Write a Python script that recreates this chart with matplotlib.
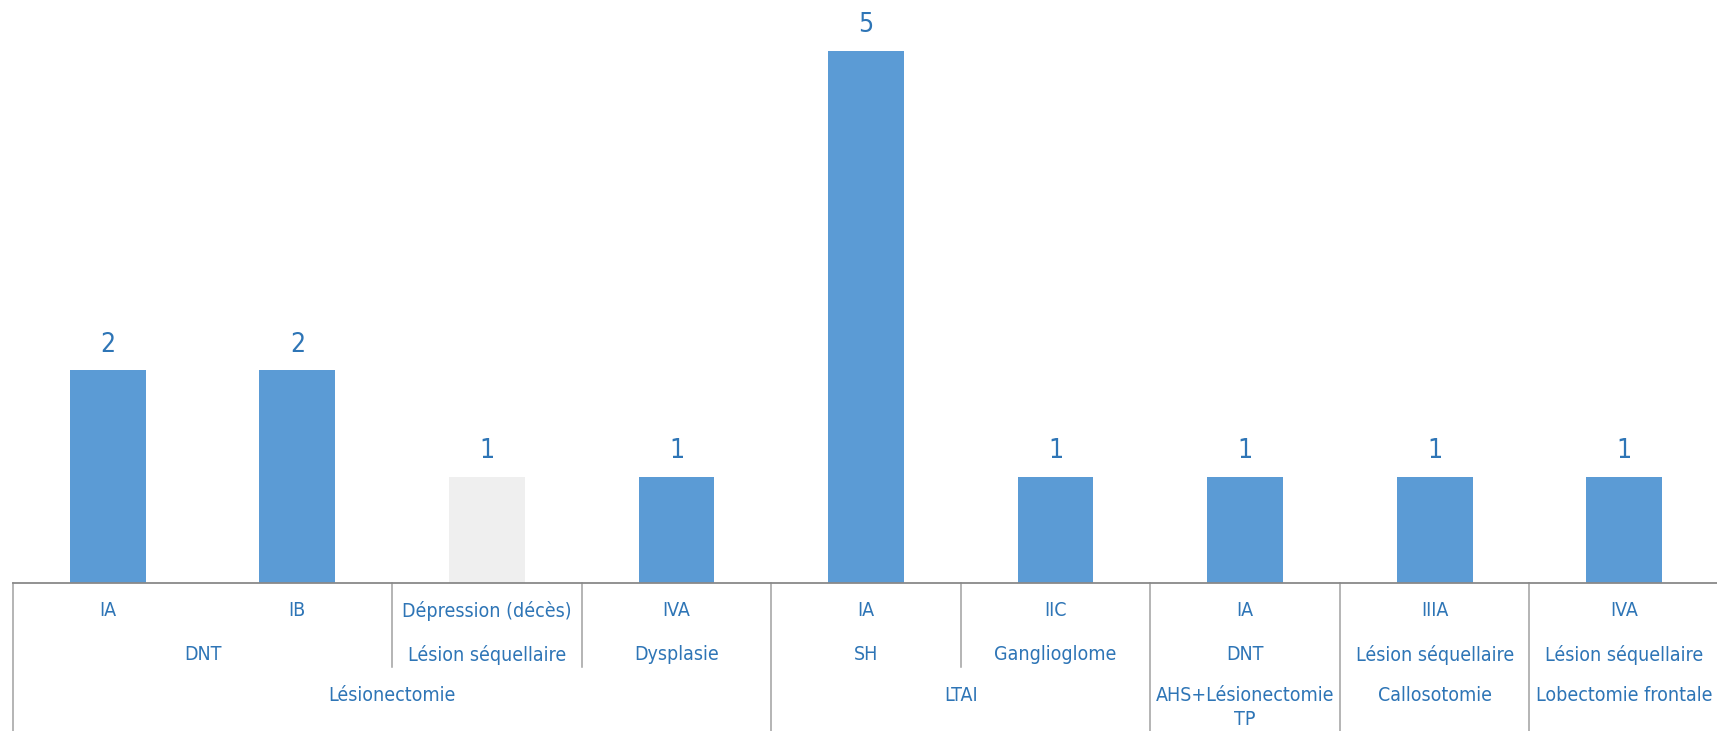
import matplotlib.pyplot as plt
from matplotlib import font_manager
from matplotlib.transforms import blended_transform_factory

# counts per outcome
values = [2, 2, 1, 1, 5, 1, 1, 1, 1]

# three-level category axis: Engel class / lesion / surgery
level1 = ['IA', 'IB', 'Dépression (décès)', 'IVA', 'IA', 'IIC', 'IA', 'IIIA', 'IVA']
level2 = ['DNT', 'DNT', 'Lésion séquellaire', 'Dysplasie', 'SH', 'Ganglioglome',
          'DNT', 'Lésion séquellaire', 'Lésion séquellaire']
level3 = ['Lésionectomie', 'Lésionectomie', 'Lésionectomie', 'Lésionectomie',
          'LTAI', 'LTAI', 'AHS+Lésionectomie\nTP', 'Callosotomie', 'Lobectomie frontale']

BLUE = '#5B9BD5'
GREY_BAR = '#EFEFEF'
TEXT = '#2E75B6'
LINE = '#A0A0A0'

# prefer a condensed face if one is installed
fonts = font_manager.fontManager.ttflist
condensed = [f for f in fonts if f.name == 'DejaVu Sans' and 'ondensed' in f.fname
             and f.weight in (400, 'normal') and f.style == 'normal']
if condensed:
    plt.rcParams['font.family'] = ['DejaVu Sans']
    plt.rcParams['font.stretch'] = 'condensed'
    label_size = 14
else:
    plt.rcParams['font.family'] = ['Liberation Sans', 'DejaVu Sans']
    label_size = 13.5


def runs(keys):
    # consecutive runs of equal keys -> (start, end) index pairs
    out = []
    start = 0
    for i in range(1, len(keys) + 1):
        if i == len(keys) or keys[i] != keys[start]:
            out.append((start, i - 1))
            start = i
    return out


fig = plt.figure(figsize=(17.17, 7.31), dpi=100)
ax = fig.add_axes([13 / 1717, 148 / 731, 1706 / 1717, 583 / 731])

x = list(range(len(values)))
colors = [GREY_BAR if lab.startswith('Dépression') else BLUE for lab in level1]
bars = ax.bar(x, values, width=0.4, color=colors)
ax.bar_label(bars, labels=[str(v) for v in values], padding=9, fontsize=19, color=TEXT)

ax.set_xlim(-0.5, len(values) - 0.5)
ax.set_ylim(0, 5 * 583 / 532)
ax.set_yticks([])
ax.set_xticks([])
for side in ['top', 'left', 'right']:
    ax.spines[side].set_visible(False)
ax.spines['bottom'].set_color('#898989')
ax.spines['bottom'].set_linewidth(1.3)

# y in figure pixels from the top, x in data units
tr = blended_transform_factory(ax.transData, fig.transFigure)


def fy(py):
    return 1 - py / 731


lab_kw = dict(transform=tr, ha='center', fontsize=label_size, color=TEXT, clip_on=False)

for i, lab in enumerate(level1):
    ax.text(i, fy(611), lab, va='center', **lab_kw)

keys2 = list(zip(level3, level2))
for a, b in runs(keys2):
    ax.text((a + b) / 2, fy(655), level2[a], va='center', **lab_kw)

for a, b in runs(level3):
    ax.text((a + b) / 2, fy(686), level3[a], va='top', linespacing=1.35, **lab_kw)

# separators: short ones between level-2 groups, full height between level-3 groups
ends3 = {b for a, b in runs(level3)}
line_kw = dict(transform=tr, color=LINE, lw=1.1, clip_on=False)
ax.plot([-0.5, -0.5], [fy(583), fy(731)], **line_kw)
for a, b in runs(keys2):
    xb = b + 0.5
    bottom = 731 if b in ends3 else 667
    ax.plot([xb, xb], [fy(583), fy(bottom)], **line_kw)

fig.savefig('out.png', dpi=100, facecolor='white')
